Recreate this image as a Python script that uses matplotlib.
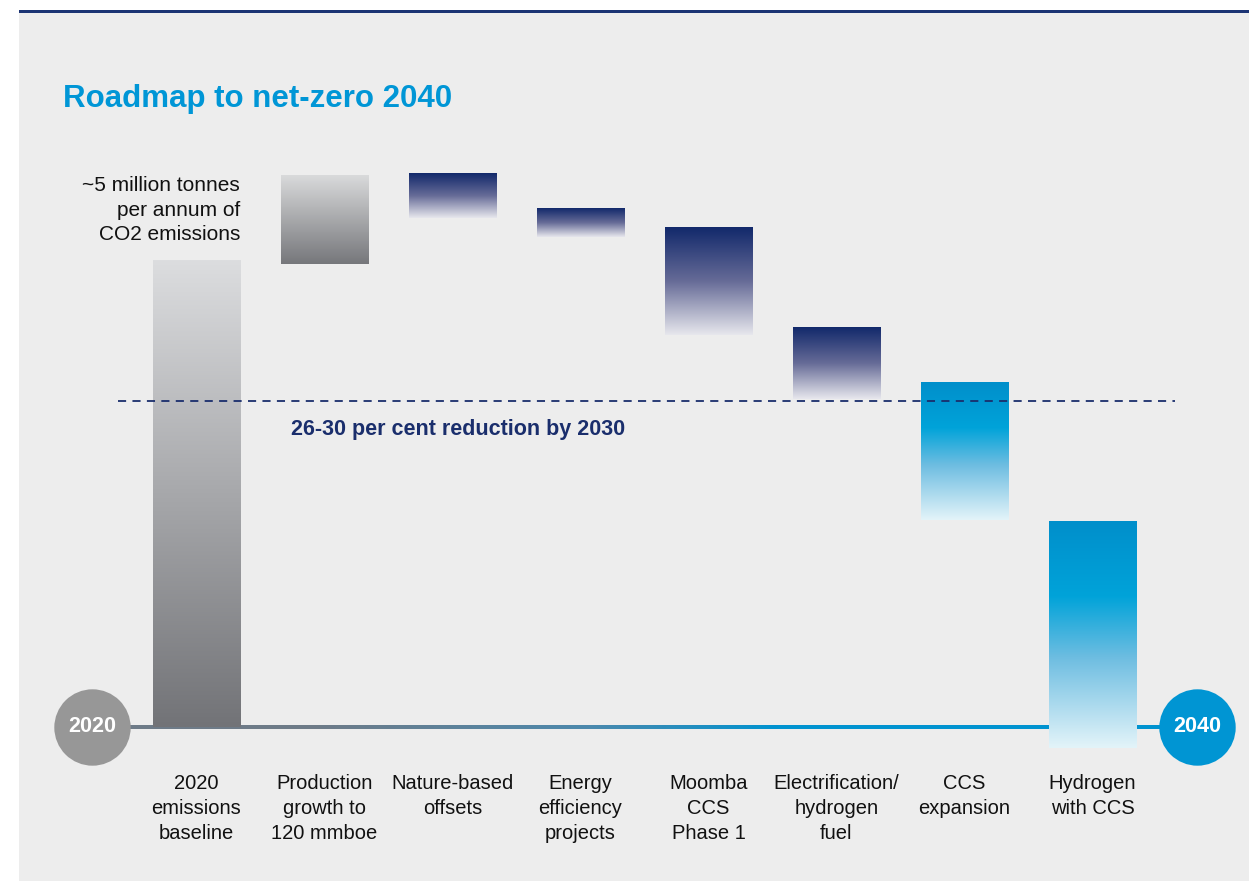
import numpy as np
import matplotlib
matplotlib.use('Agg')
import matplotlib.pyplot as plt
from matplotlib.colors import LinearSegmentedColormap
from matplotlib.patches import Rectangle

plt.rcParams['font.family'] = ['Liberation Sans', 'DejaVu Sans']

# waterfall data (million tonnes CO2 per annum)
categories = ['2020\nemissions\nbaseline', 'Production\ngrowth to\n120 mmboe', 'Nature-based\noffsets',
              'Energy\nefficiency\nprojects', 'Moomba\nCCS\nPhase 1', 'Electrification/\nhydrogen\nfuel',
              'CCS\nexpansion', 'Hydrogen\nwith CCS']
bar_bottom = [0.00, 4.96, 5.45, 5.25, 4.20, 3.51, 2.22, -0.22]
bar_top = [5.00, 5.91, 5.93, 5.56, 5.35, 4.28, 3.69, 2.21]
bar_kind = ['grey0', 'grey', 'navy', 'navy', 'navy', 'navy', 'blue', 'blue']
target_2030 = 3.49
start_year, end_year = '2020', '2040'

# gradients, top -> bottom
gradients = {
    'grey0': [(0.0, '#dcdddf'), (1.0, '#727377')],
    'grey': [(0.0, '#d9dadb'), (1.0, '#76777b')],
    'navy': [(0.0, '#12296b'), (0.5, '#666b97'), (1.0, '#e7e7ed')],
    'blue': [(0.0, '#008fcb'), (0.33, '#00a3d9'), (0.6, '#6dbde1'), (1.0, '#e3f4f9')],
}
# baseline colour, left -> right
line_grad = [(0.0, '#6e7b88'), (0.2, '#6e7b88'), (0.45, '#4c89ad'), (0.62, '#0093d0'), (1.0, '#0093d0')]

fig = plt.figure(figsize=(12.49, 8.81), dpi=100, facecolor='white')
# grey panel + top rule
fig.patches.append(Rectangle((19 / 1249, 0), 1, 1 - 12 / 881, transform=fig.transFigure,
                             facecolor='#ededed', edgecolor='none', zorder=-10))
fig.patches.append(Rectangle((19 / 1249, 1 - 12.5 / 881), 1, 2.5 / 881, transform=fig.transFigure,
                             facecolor='#1c3474', edgecolor='none', zorder=-9))

ax = fig.add_axes([0, 0, 1, 1])
ax.set_facecolor('none')
ax.axis('off')

x = np.arange(len(categories))
width = 0.68
heights = np.array(bar_top) - np.array(bar_bottom)
bars = ax.bar(x, heights, bottom=bar_bottom, width=width, color='none', edgecolor='none', zorder=2)

grad = np.linspace(0, 1, 256).reshape(-1, 1)
for rect, kind in zip(bars, bar_kind):
    cmap = LinearSegmentedColormap.from_list(kind, gradients[kind])
    x0, y0 = rect.get_x(), rect.get_y()
    im = ax.imshow(grad, cmap=cmap, extent=[x0, x0 + rect.get_width(), y0, y0 + rect.get_height()],
                   aspect='auto', interpolation='bilinear', zorder=3)
    im.set_clip_path(rect)

# baseline strip with colour change from grey-blue to blue
x_start, x_end = x[0] - 0.816, x[-1] + 0.816
lcmap = LinearSegmentedColormap.from_list('line', line_grad)
ax.imshow(grad.T, cmap=lcmap, extent=[x_start, x_end, -0.017, 0.017], aspect='auto',
          interpolation='bilinear', zorder=1)

ax.set_xlim(-1.535, 8.223)
ax.set_ylim(-1.649, 7.784)

# year circles
ax.plot([x_start], [0], 'o', ms=55, color='#979797', mec='none', zorder=4)
ax.plot([x_end], [0], 'o', ms=55, color='#0095d3', mec='none', zorder=4)
ax.text(x_start, 0, start_year, ha='center', va='center', color='white', fontsize=15.5, fontweight='bold', zorder=5)
ax.text(x_end, 0, end_year, ha='center', va='center', color='white', fontsize=15.5, fontweight='bold', zorder=5)

# 2030 target
ax.plot([-0.613, 7.645], [target_2030, target_2030], color='#1a2e6c', lw=1.3, dashes=(4.5, 3.5), zorder=4)
ax.text(2.04, target_2030 - 0.31, '26-30 per cent reduction by 2030', ha='center', va='center',
        color='#1a2e6c', fontsize=15.5, fontweight='bold')

# category labels
for xi, lab in zip(x, categories):
    ax.text(xi, -0.5, lab, ha='center', va='top', fontsize=14.5, color='#111111', linespacing=1.42)

# emissions note
ax.text(x[0] + width / 2, 5.90, '~5 million tonnes\nper annum of\nCO2 emissions', ha='right', va='top',
        fontsize=15, color='#111111', linespacing=1.38)

fig.text(63 / 1249, 1 - 107 / 881, 'Roadmap to net-zero 2040', ha='left', va='baseline',
         fontsize=22.5, fontweight='bold', color='#0096d6')

fig.savefig('out.png', dpi=100, facecolor='white')
